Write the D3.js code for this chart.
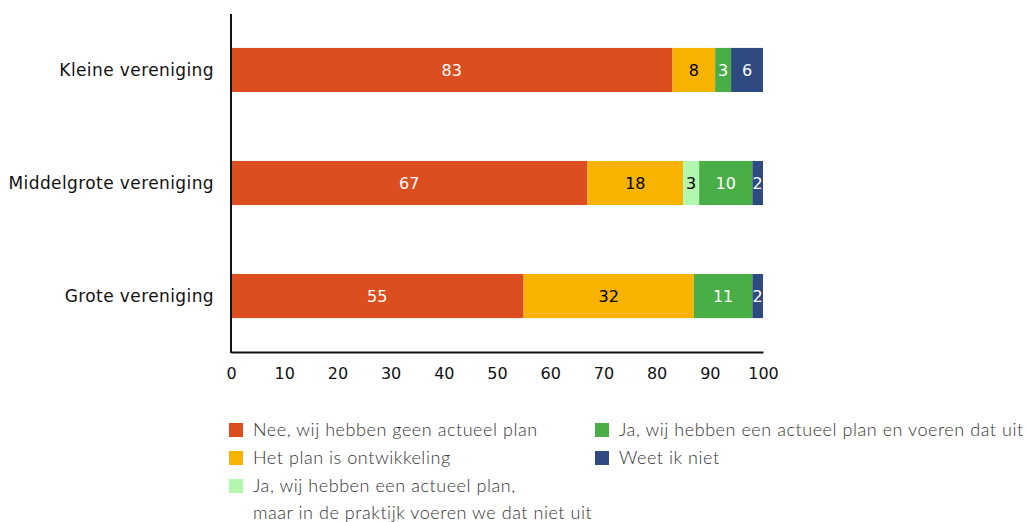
<!DOCTYPE html>
<html>
<head>
<meta charset="utf-8">
<script src="https://cdn.jsdelivr.net/npm/d3@7"></script>
<style>
  body { margin: 0; background: #fff; }
  .cat { font-family: "DejaVu Sans", sans-serif; font-size: 17px; letter-spacing: 0.4px; fill: #111; }
  .tick text { font-family: "DejaVu Sans", sans-serif; font-size: 16px; fill: #111; }
  .val { font-family: "DejaVu Sans", sans-serif; font-size: 16px; }
  .leg { font-family: "Lato", sans-serif; font-weight: 300; font-size: 18px; letter-spacing: 0.55px; fill: #333; }
</style>
</head>
<body>
<script>
const categories = ['Kleine vereniging', 'Middelgrote vereniging', 'Grote vereniging'];
const seriesNames = [
  'Nee, wij hebben geen actueel plan',
  'Het plan is ontwikkeling',
  'Ja, wij hebben een actueel plan,|maar in de praktijk voeren we dat niet uit',
  'Ja, wij hebben een actueel plan en voeren dat uit',
  'Weet ik niet'
];
const nee = [83, 67, 55];
const ontwikkeling = [8, 18, 32];
const nietUit = [0, 3, 0];
const welUit = [3, 10, 11];
const weetNiet = [6, 2, 2];
const xTicks = [0, 10, 20, 30, 40, 50, 60, 70, 80, 90, 100];

const colors = ['#dc4e1f', '#f8b200', '#b3f7ae', '#4aae47', '#2e4a80'];
const textColors = ['#fff', '#000', '#000', '#fff', '#fff'];

const config = { width: 1027, height: 522 };

const svg = d3.select('body').append('svg')
  .attr('width', config.width)
  .attr('height', config.height);

const x = d3.scaleLinear().domain([0, 100]).range([231, 763]);
const y = d3.scaleBand().domain(categories).range([14, 352])
  .paddingInner(0.61).paddingOuter(0.3);

const rows = categories.map((c, i) => ({
  cat: c,
  vals: [nee[i], ontwikkeling[i], nietUit[i], welUit[i], weetNiet[i]]
}));

rows.forEach(r => {
  let acc = 0;
  const segs = r.vals.map((v, k) => {
    const s = { k, v, x0: acc, x1: acc + v };
    acc += v;
    return s;
  }).filter(s => s.v > 0);

  const g = svg.append('g');
  g.selectAll('rect').data(segs).join('rect')
    .attr('x', d => x(d.x0))
    .attr('y', y(r.cat))
    .attr('width', d => x(d.x1) - x(d.x0))
    .attr('height', y.bandwidth())
    .attr('fill', d => colors[d.k]);

  g.selectAll('text').data(segs).join('text')
    .attr('class', 'val')
    .attr('x', d => (x(d.x0) + x(d.x1)) / 2)
    .attr('y', y(r.cat) + y.bandwidth() / 2)
    .attr('dy', '0.36em')
    .attr('text-anchor', 'middle')
    .attr('fill', d => textColors[d.k])
    .text(d => d.v);
});

// category labels
svg.selectAll('.cat').data(categories).join('text')
  .attr('class', 'cat')
  .attr('x', 214)
  .attr('y', d => y(d) + y.bandwidth() / 2)
  .attr('dy', '0.36em')
  .attr('text-anchor', 'end')
  .text(d => d);

// x axis
const xAxis = svg.append('g')
  .attr('transform', 'translate(0,352)')
  .call(d3.axisBottom(x).tickValues(xTicks).tickSize(0).tickPadding(16));
xAxis.select('.domain').attr('stroke', '#111').attr('stroke-width', 2);

// y axis line
svg.append('line')
  .attr('x1', 231).attr('x2', 231)
  .attr('y1', 14).attr('y2', 353)
  .attr('stroke', '#111').attr('stroke-width', 2);

// legend
const legPos = [[229, 430], [229, 458], [229, 486], [595, 430], [595, 458]];
seriesNames.forEach((name, k) => {
  const [lx, ly] = legPos[k];
  const g = svg.append('g').attr('transform', `translate(${lx},${ly})`);
  g.append('rect').attr('x', 0).attr('y', -7).attr('width', 14).attr('height', 14)
    .attr('fill', colors[k]);
  const t = g.append('text').attr('class', 'leg').attr('x', 24).attr('y', 0);
  name.split('|').forEach((line, j) => {
    t.append('tspan').attr('x', 24).attr('dy', j === 0 ? '0.35em' : 27).text(line);
  });
});
</script>
</body>
</html>
